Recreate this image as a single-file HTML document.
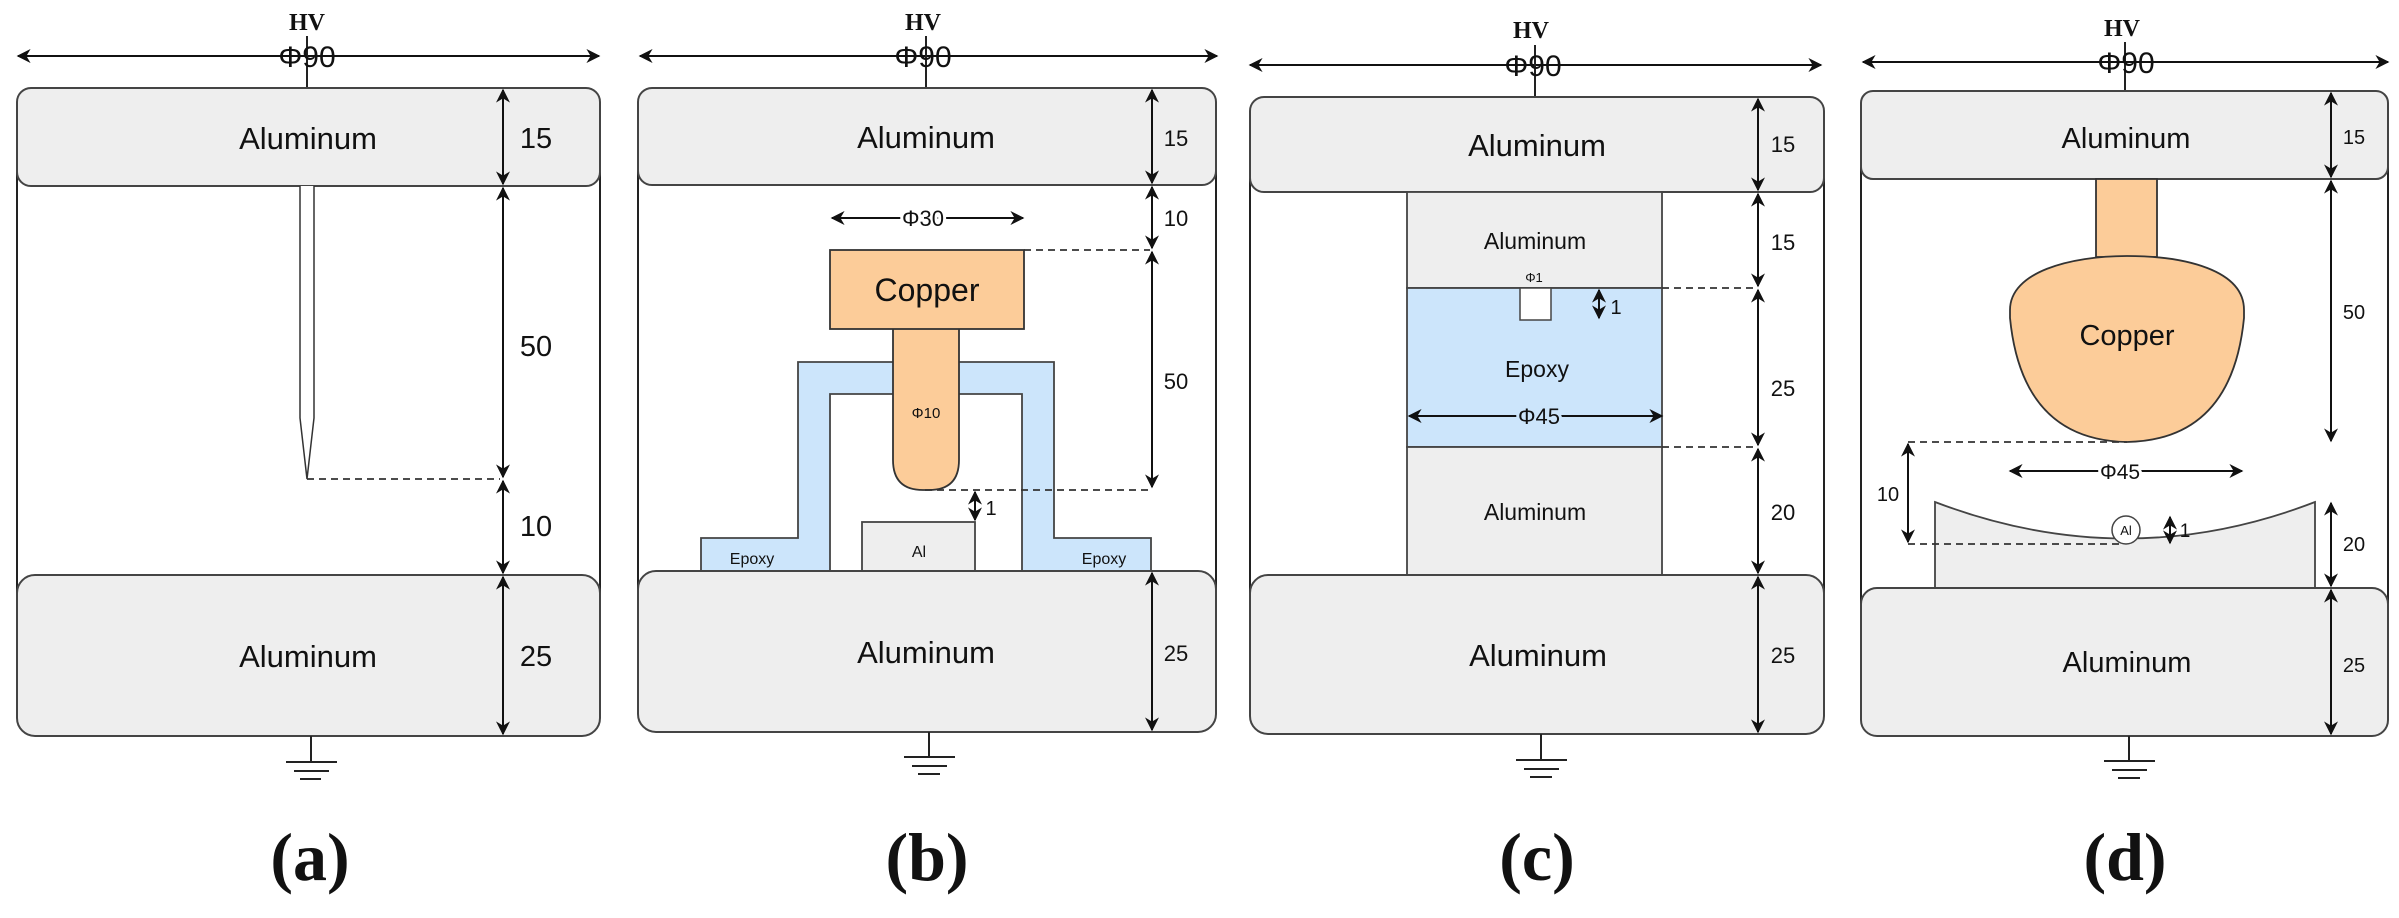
<!DOCTYPE html>
<html><head><meta charset="utf-8"><style>
html,body{margin:0;padding:0;background:#fff}
svg{display:block}
text{font-family:"Liberation Sans",sans-serif;fill:#111}
.s{font-family:"Liberation Serif",serif;font-weight:bold}
.al{fill:#eeeeee;stroke:#444;stroke-width:2}
.ln{stroke:#222;stroke-width:2;fill:none}
.d{stroke:#333;stroke-width:1.8;stroke-dasharray:7,5;fill:none}
.ar{stroke:#111;stroke-width:2;fill:none;marker-start:url(#m2);marker-end:url(#m2)}
.ae{stroke:#111;stroke-width:2;fill:none;marker-end:url(#m2)}
</style></head><body>
<svg width="2399" height="918" viewBox="0 0 2399 918" xmlns="http://www.w3.org/2000/svg">
<defs>
<marker id="m2" viewBox="0 0 10 10" refX="9" refY="5" markerWidth="14" markerHeight="14" orient="auto-start-reverse" markerUnits="userSpaceOnUse"><path d="M0,0 L10,5 L0,10 L3,5 Z" fill="#111"/></marker></defs>

<!-- Panel a -->
<text x="307" y="30" class="s" font-size="24" text-anchor="middle">HV</text>
<line x1="18" y1="56" x2="599" y2="56" class="ar"/>
<line x1="307" y1="36" x2="307" y2="88" class="ln" stroke-width="1.5"/>
<text x="307" y="67" font-size="30" text-anchor="middle">Φ90</text>
<line x1="17" y1="130" x2="17" y2="690" class="ln" stroke-width="1.8"/>
<line x1="600" y1="130" x2="600" y2="690" class="ln" stroke-width="1.8"/>
<rect x="17" y="88" width="583" height="98" rx="14" class="al"/>
<rect x="17" y="575" width="583" height="161" rx="18" class="al"/>
<text x="308" y="149" font-size="31" text-anchor="middle">Aluminum</text>
<text x="308" y="667" font-size="31" text-anchor="middle">Aluminum</text>
<path d="M300,186 L300,418 L307,479 L314,418 L314,186" fill="#fff" stroke="#333" stroke-width="1.5"/>
<line x1="307" y1="479" x2="500" y2="479" class="d"/>
<line x1="503" y1="90" x2="503" y2="184" class="ar"/>
<line x1="503" y1="188" x2="503" y2="477" class="ar"/>
<line x1="503" y1="481" x2="503" y2="573" class="ar"/>
<line x1="503" y1="577" x2="503" y2="734" class="ar"/>
<g font-size="29" text-anchor="middle"><text x="536" y="148">15</text><text x="536" y="356">50</text><text x="536" y="536">10</text><text x="536" y="666">25</text></g>
<g class="ln" stroke-width="1.5"><line x1="311" y1="736" x2="311" y2="762"/><line x1="286" y1="762" x2="337" y2="762"/><line x1="294" y1="771" x2="329" y2="771"/><line x1="300" y1="779" x2="321" y2="779"/></g>
<text x="310" y="880" class="s" font-size="68" text-anchor="middle">(a)</text>

<!-- Panel b -->
<text x="923" y="30" class="s" font-size="24" text-anchor="middle">HV</text>
<line x1="640" y1="56" x2="1217" y2="56" class="ar"/>
<line x1="926" y1="36" x2="926" y2="88" class="ln" stroke-width="1.5"/>
<text x="923" y="67" font-size="30" text-anchor="middle">Φ90</text>
<line x1="638" y1="130" x2="638" y2="690" class="ln" stroke-width="1.8"/>
<line x1="1216" y1="130" x2="1216" y2="690" class="ln" stroke-width="1.8"/>
<rect x="638" y="88" width="578" height="97" rx="14" class="al"/>
<path d="M701,571 L701,538 L798,538 L798,362 L1054,362 L1054,538 L1151,538 L1151,571 L1022,571 L1022,394 L830,394 L830,571 Z" fill="#cce5fb" stroke="#444" stroke-width="1.8"/>
<rect x="862" y="522" width="113" height="49" fill="#eeeeee" stroke="#444" stroke-width="1.8"/>
<text x="919" y="557" font-size="16" text-anchor="middle">Al</text>
<rect x="638" y="571" width="578" height="161" rx="18" class="al"/>
<text x="926" y="148" font-size="31" text-anchor="middle">Aluminum</text>
<text x="926" y="663" font-size="31" text-anchor="middle">Aluminum</text>
<path d="M893,325 L893,460 Q893,490 923,490 L929,490 Q959,490 959,460 L959,325 Z" fill="#fccc99" stroke="#333" stroke-width="1.8"/>
<rect x="830" y="250" width="194" height="79" fill="#fccc99" stroke="#333" stroke-width="1.8"/>
<text x="927" y="301" font-size="32" text-anchor="middle">Copper</text>
<text x="926" y="418" font-size="15" text-anchor="middle">Φ10</text>
<text x="752" y="564" font-size="16" text-anchor="middle">Epoxy</text>
<text x="1104" y="564" font-size="16" text-anchor="middle">Epoxy</text>
<line x1="832" y1="218" x2="1023" y2="218" class="ar"/>
<text x="923" y="226" font-size="22" text-anchor="middle" style="paint-order:stroke;stroke:#fff;stroke-width:6">Φ30</text>
<line x1="1024" y1="250" x2="1150" y2="250" class="d"/>
<line x1="925" y1="490" x2="1150" y2="490" class="d"/>
<line x1="975" y1="492" x2="975" y2="520" class="ar"/>
<text x="991" y="515" font-size="20" text-anchor="middle">1</text>
<line x1="1152" y1="90" x2="1152" y2="183" class="ar"/>
<line x1="1152" y1="187" x2="1152" y2="248" class="ar"/>
<line x1="1152" y1="252" x2="1152" y2="487" class="ar"/>
<line x1="1152" y1="573" x2="1152" y2="730" class="ar"/>
<g font-size="22" text-anchor="middle"><text x="1176" y="146">15</text><text x="1176" y="226">10</text><text x="1176" y="389">50</text><text x="1176" y="661">25</text></g>
<g class="ln" stroke-width="1.5"><line x1="929" y1="732" x2="929" y2="757"/><line x1="904" y1="757" x2="955" y2="757"/><line x1="912" y1="766" x2="947" y2="766"/><line x1="918" y1="774" x2="940" y2="774"/></g>
<text x="927" y="880" class="s" font-size="68" text-anchor="middle">(b)</text>

<!-- Panel c -->
<text x="1531" y="38" class="s" font-size="24" text-anchor="middle">HV</text>
<line x1="1250" y1="65" x2="1821" y2="65" class="ar"/>
<line x1="1535" y1="45" x2="1535" y2="97" class="ln" stroke-width="1.5"/>
<text x="1533" y="76" font-size="30" text-anchor="middle">Φ90</text>
<line x1="1250" y1="140" x2="1250" y2="690" class="ln" stroke-width="1.8"/>
<line x1="1824" y1="140" x2="1824" y2="690" class="ln" stroke-width="1.8"/>
<rect x="1250" y="97" width="574" height="95" rx="14" class="al"/>
<rect x="1407" y="192" width="255" height="96" fill="#eeeeee" stroke="#444" stroke-width="1.8"/>
<rect x="1407" y="288" width="255" height="159" fill="#cce5fb" stroke="#444" stroke-width="1.8"/>
<rect x="1407" y="447" width="255" height="128" fill="#eeeeee" stroke="#444" stroke-width="1.8"/>
<rect x="1520" y="288" width="31" height="32" fill="#fff" stroke="#444" stroke-width="1.5"/>
<rect x="1250" y="575" width="574" height="159" rx="18" class="al"/>
<text x="1537" y="156" font-size="31" text-anchor="middle">Aluminum</text>
<text x="1535" y="249" font-size="23" text-anchor="middle">Aluminum</text>
<text x="1535" y="520" font-size="23" text-anchor="middle">Aluminum</text>
<text x="1538" y="666" font-size="31" text-anchor="middle">Aluminum</text>
<text x="1537" y="377" font-size="23" text-anchor="middle">Epoxy</text>
<text x="1534" y="282" font-size="13" text-anchor="middle">Φ1</text>
<line x1="1409" y1="416" x2="1662" y2="416" class="ar"/>
<text x="1539" y="424" font-size="22" text-anchor="middle" style="paint-order:stroke;stroke:#cce5fb;stroke-width:6">Φ45</text>
<line x1="1599" y1="290" x2="1599" y2="318" class="ar"/>
<text x="1616" y="314" font-size="20" text-anchor="middle">1</text>
<line x1="1662" y1="288" x2="1756" y2="288" class="d"/>
<line x1="1662" y1="447" x2="1756" y2="447" class="d"/>
<line x1="1758" y1="99" x2="1758" y2="190" class="ar"/>
<line x1="1758" y1="194" x2="1758" y2="286" class="ar"/>
<line x1="1758" y1="290" x2="1758" y2="445" class="ar"/>
<line x1="1758" y1="449" x2="1758" y2="573" class="ar"/>
<line x1="1758" y1="577" x2="1758" y2="732" class="ar"/>
<g font-size="22" text-anchor="middle"><text x="1783" y="152">15</text><text x="1783" y="250">15</text><text x="1783" y="396">25</text><text x="1783" y="520">20</text><text x="1783" y="663">25</text></g>
<g class="ln" stroke-width="1.5"><line x1="1541" y1="734" x2="1541" y2="760"/><line x1="1516" y1="760" x2="1567" y2="760"/><line x1="1524" y1="769" x2="1559" y2="769"/><line x1="1530" y1="777" x2="1552" y2="777"/></g>
<text x="1537" y="880" class="s" font-size="68" text-anchor="middle">(c)</text>

<!-- Panel d -->
<text x="2122" y="36" class="s" font-size="24" text-anchor="middle">HV</text>
<line x1="1863" y1="62" x2="2388" y2="62" class="ar"/>
<line x1="2125" y1="42" x2="2125" y2="91" class="ln" stroke-width="1.5"/>
<text x="2126" y="73" font-size="30" text-anchor="middle">Φ90</text>
<line x1="1861" y1="130" x2="1861" y2="690" class="ln" stroke-width="1.8"/>
<line x1="2388" y1="130" x2="2388" y2="690" class="ln" stroke-width="1.8"/>
<rect x="1861" y="91" width="527" height="88" rx="12" class="al"/>
<rect x="2096" y="179" width="61" height="78" fill="#fccc99" stroke="#333" stroke-width="1.8"/>
<path d="M2010,310 C2010,272 2070,256 2127,256 C2185,256 2244,270 2244,310 L2244,318 Q2232,440 2127,442 Q2022,440 2010,318 Z" fill="#fccc99" stroke="#333" stroke-width="1.8"/>
<text x="2127" y="345" font-size="29" text-anchor="middle">Copper</text>
<path d="M1935,588 L1935,502 Q2126,575 2315,502 L2315,588 Z" fill="#eeeeee" stroke="#444" stroke-width="1.8"/>
<rect x="1861" y="588" width="527" height="148" rx="16" class="al"/>
<text x="2126" y="148" font-size="29" text-anchor="middle">Aluminum</text>
<text x="2127" y="672" font-size="29" text-anchor="middle">Aluminum</text>
<ellipse cx="2126" cy="530" rx="14" ry="14" fill="#fff" stroke="#444" stroke-width="1.5"/>
<text x="2126" y="535" font-size="13" text-anchor="middle">Al</text>
<line x1="1908" y1="442" x2="2127" y2="442" class="d"/>
<line x1="1908" y1="544" x2="2122" y2="544" class="d"/>
<line x1="1908" y1="444" x2="1908" y2="542" class="ar"/>
<text x="1888" y="501" font-size="20" text-anchor="middle">10</text>
<line x1="2010" y1="471" x2="2242" y2="471" class="ar"/>
<text x="2120" y="479" font-size="21" text-anchor="middle" style="paint-order:stroke;stroke:#fff;stroke-width:6">Φ45</text>
<line x1="2170" y1="517" x2="2170" y2="543" class="ar"/>
<text x="2185" y="537" font-size="19" text-anchor="middle">1</text>
<line x1="2331" y1="93" x2="2331" y2="177" class="ar"/>
<line x1="2331" y1="181" x2="2331" y2="441" class="ar"/>
<line x1="2331" y1="503" x2="2331" y2="586" class="ar"/>
<line x1="2331" y1="590" x2="2331" y2="734" class="ar"/>
<g font-size="20" text-anchor="middle"><text x="2354" y="144">15</text><text x="2354" y="319">50</text><text x="2354" y="551">20</text><text x="2354" y="672">25</text></g>
<g class="ln" stroke-width="1.5"><line x1="2129" y1="736" x2="2129" y2="761"/><line x1="2104" y1="761" x2="2155" y2="761"/><line x1="2112" y1="770" x2="2147" y2="770"/><line x1="2118" y1="778" x2="2140" y2="778"/></g>
<text x="2125" y="880" class="s" font-size="68" text-anchor="middle">(d)</text>
</svg>
</body></html>
